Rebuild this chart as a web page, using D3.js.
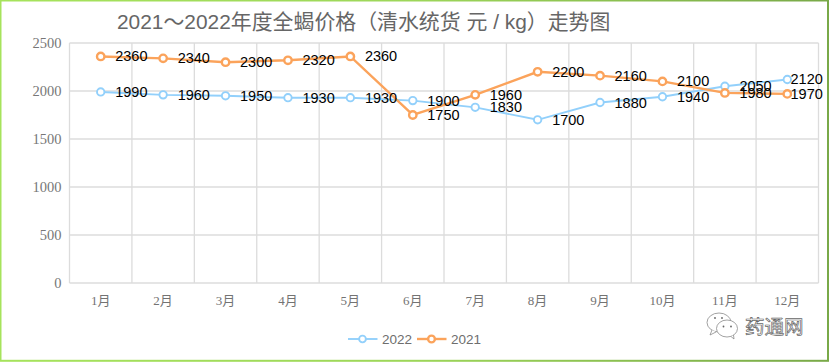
<!DOCTYPE html>
<html><head><meta charset="utf-8">
<script src="https://cdnjs.cloudflare.com/ajax/libs/d3/7.8.5/d3.min.js"></script>
<style>html,body{margin:0;padding:0;background:#fff}svg{display:block}</style>
</head><body><svg id="c" width="830" height="362"></svg>
<script>
const months=["1月","2月","3月","4月","5月","6月","7月","8月","9月","10月","11月","12月"];
const values2022=[1990,1960,1950,1930,1930,1900,1830,1700,1880,1940,2050,2120];
const values2021=[2360,2340,2300,2320,2360,1750,1960,2200,2160,2100,1980,1970];
const yTicks=[0,500,1000,1500,2000,2500];
const titleText="2021～2022年度全蝎价格（清水统货 元 / kg）走势图";
const seriesList=[{name:"2022",values:values2022,color:"#92d0fb",w:1.9},{name:"2021",values:values2021,color:"#fba35b",w:2.4}];

const svg=d3.select("#c");
const W=830,H=362,L=69.5,R=818.5,T=43,B=283;
const sans='"Liberation Sans","Noto Sans CJK SC",sans-serif';
const serif='"Liberation Serif","Noto Sans CJK SC",serif';
const defs=svg.append("defs");
const g=defs.append("linearGradient").attr("id","fr").attr("x1",0).attr("x2",1).attr("y1",0).attr("y2",0);
g.append("stop").attr("offset",0).attr("stop-color","#a6e35c");
g.append("stop").attr("offset",.5).attr("stop-color","#9dd659");
g.append("stop").attr("offset",1).attr("stop-color","#79a948");
svg.append("rect").attr("x",.5).attr("y",.5).attr("width",827.5).attr("height",360.3).attr("fill","#fff")
  .attr("stroke","url(#fr)").attr("stroke-width",2);

const x=d3.scaleBand().domain(months).range([L,R]);
const y=d3.scaleLinear().domain([0,2500]).range([B,T]);
const grid="#dcdcdc";
const gg=svg.append("g");
gg.selectAll("line.h").data(yTicks).join("line").attr("class","h")
  .attr("x1",L).attr("x2",R).attr("y1",d=>y(d)).attr("y2",d=>y(d)).attr("stroke",grid).attr("stroke-width",1.3);
const edges=months.map(m=>x(m)).concat([R]);
gg.selectAll("line.v").data(edges).join("line").attr("class","v")
  .attr("x1",d=>d).attr("x2",d=>d).attr("y1",T).attr("y2",B).attr("stroke",grid).attr("stroke-width",1.3);

svg.append("g").selectAll("text").data(yTicks).join("text")
  .attr("x",61.5).attr("y",d=>y(d)+4.5).attr("text-anchor","end")
  .attr("font-family",serif).attr("font-size",14.5).attr("fill","#777").text(d=>d);
svg.append("g").selectAll("text").data(months).join("text")
  .attr("x",d=>x(d)+x.bandwidth()/2).attr("y",305).attr("text-anchor","middle")
  .attr("font-family",serif).attr("font-size",13).attr("fill","#737373").text(d=>d);

svg.append("text").attr("x",117).attr("y",29).attr("font-family",sans).attr("font-size",20.9)
  .attr("fill","#666").text(titleText);

const line=d3.line().x((d,i)=>x(months[i])+x.bandwidth()/2).y(d=>y(d));
seriesList.forEach(s=>{
  const p=svg.append("g");
  p.append("path").attr("d",line(s.values)).attr("fill","none").attr("stroke",s.color).attr("stroke-width",s.w);
  p.selectAll("circle").data(s.values).join("circle")
    .attr("cx",(d,i)=>x(months[i])+x.bandwidth()/2).attr("cy",d=>y(d)).attr("r",3.7)
    .attr("fill","#fff").attr("stroke",s.color).attr("stroke-width",s.w);
});
seriesList.forEach(s=>{
  svg.append("g").selectAll("text").data(s.values).join("text")
    .attr("x",(d,i)=>Math.min(x(months[i])+x.bandwidth()/2+14.5,790.5)).attr("y",d=>y(d)+5)
    .attr("font-family",sans).attr("font-size",14.5).attr("fill","#000").text(d=>d);
});

// legend
const lg=svg.append("g");
[{lx:348,tx:382},{lx:417,tx:451}].forEach((o,i)=>{
  const s=seriesList[i];
  lg.append("line").attr("x1",o.lx).attr("x2",o.lx+29.5).attr("y1",339).attr("y2",339).attr("stroke",s.color).attr("stroke-width",s.w);
  lg.append("circle").attr("cx",o.lx+14.5).attr("cy",339).attr("r",3.4).attr("fill","#fff").attr("stroke",s.color).attr("stroke-width",s.w);
  lg.append("text").attr("x",o.tx).attr("y",344).attr("font-family",sans).attr("font-size",13.5).attr("fill","#6e6e6e").text(s.name);
});

// watermark
const wm=svg.append("g").attr("fill","#fff").attr("stroke","#8a8a8a").attr("stroke-width",.8);
wm.append("ellipse").attr("cx",719).attr("cy",322.5).attr("rx",12).attr("ry",9.5);
wm.append("path").attr("d","M712 330 L710 335 L716 332");
wm.append("ellipse").attr("cx",727).attr("cy",328.5).attr("rx",10.5).attr("ry",8.5);
wm.append("path").attr("d","M731 336.5 L734 339 L733.5 335");
svg.append("g").attr("fill","#666").selectAll("circle").data([[715,318],[722,318],[723.5,326.5],[731,326.5]]).join("circle")
  .attr("cx",d=>d[0]).attr("cy",d=>d[1]).attr("r",.9);
svg.append("text").attr("x",745).attr("y",334).attr("font-family",'"Noto Sans CJK SC",sans-serif')
  .attr("font-size",19.5).attr("fill","#fff").attr("stroke","#666").attr("stroke-width",.7).text("药通网");
</script></body></html>
